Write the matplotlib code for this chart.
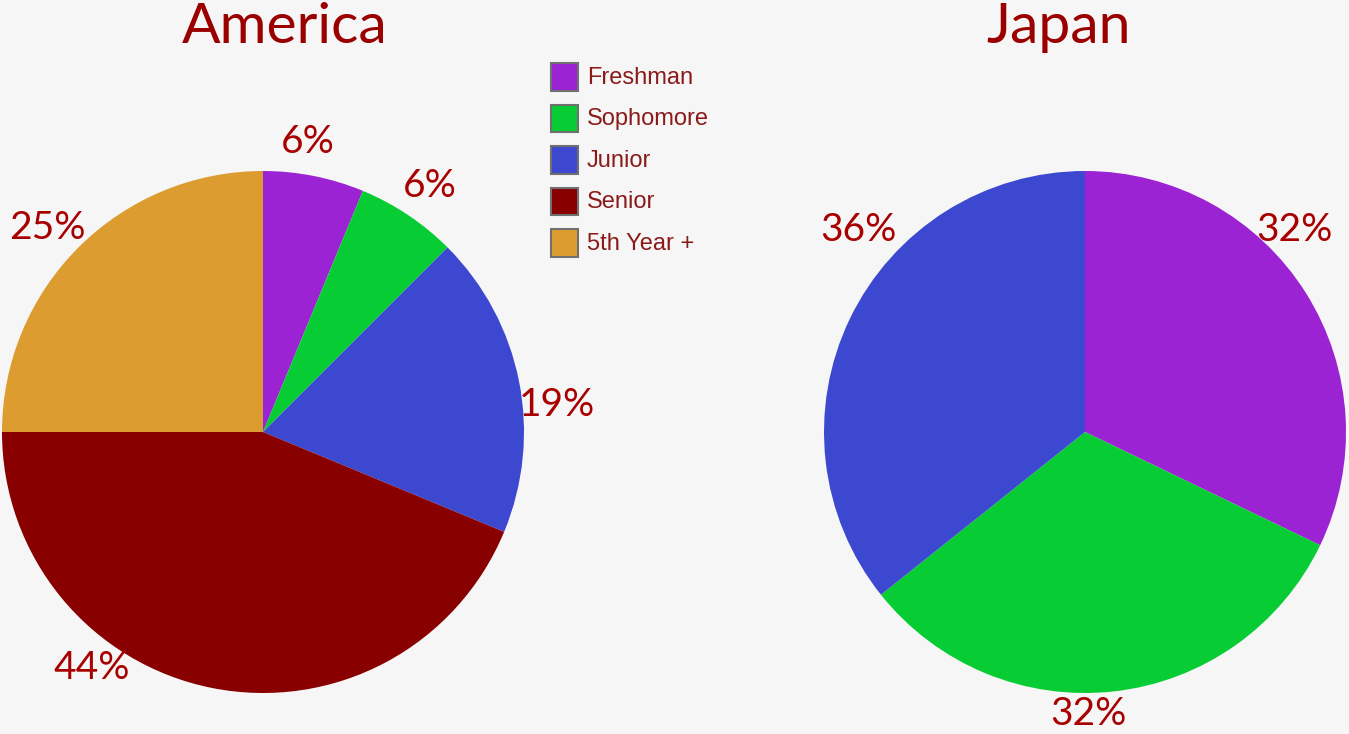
import numpy as np
import matplotlib
matplotlib.use("Agg")
import matplotlib.pyplot as plt
from matplotlib.patches import Rectangle

# Class-year distribution of respondents (head counts)
categories = ["Freshman", "Sophomore", "Junior", "Senior", "5th Year +"]
america_counts = [1, 1, 3, 7, 4]
japan_counts = [9, 9, 10]

colors = ["#9b23d3", "#08cc33", "#3c48d0", "#880000", "#dd9c30"]
bg = "#f6f6f6"
title_color = "#9a0000"
label_color = "#a80000"
legend_text_color = "#8b1a1a"

W, H = 1349, 734
fig = plt.figure(figsize=(W / 100, H / 100), dpi=100, facecolor=bg)


def px_axes(cx, cy, r):
    """Axes box (figure fraction) of a pie centred at pixel (cx, cy) with radius r."""
    return [(cx - r) / W, (H - cy - r) / H, 2 * r / W, 2 * r / H]


# angular nudges (degrees, clockwise) and radial distances of the percent labels
america_shift = [-2.5, 0.4, 6.0, 24.7, -1.6]
america_radial = [1.125, 1.14, 1.13, 1.115, 1.135]
japan_shift = [-11.8, 5.8, 16.0]
japan_radial = [1.115, 1.08, 1.165]


def draw_pie(rect, counts, shifts, radial):
    ax = fig.add_axes(rect)
    ax.set_facecolor("none")
    ax.pie(counts, colors=colors[:len(counts)], startangle=90, counterclock=False,
           radius=1.0, wedgeprops=dict(linewidth=0))
    ax.set_xlim(-1, 1)
    ax.set_ylim(-1, 1)
    ax.set_aspect("equal")
    ax.axis("off")
    total = float(sum(counts))
    start = 0.0
    for v, sh, rr in zip(counts, shifts, radial):
        pct = 100.0 * v / total
        mid = start + pct / 100.0 * 180.0
        ang = np.deg2rad(mid + sh)
        x, y = rr * np.sin(ang), rr * np.cos(ang)
        ax.text(x, y, f"{pct:.0f}%", ha="center", va="center", fontsize=28,
                color=label_color, family="Lato", fontweight=400, clip_on=False)
        start += pct / 100.0 * 360.0
    return ax


draw_pie(px_axes(263, 432, 261), america_counts, america_shift, america_radial)
draw_pie(px_axes(1085, 432, 261), japan_counts, japan_shift, japan_radial)

# Titles
fig.text(285 / W, (H - 43) / H, "America", ha="center", va="baseline",
         fontsize=41, color=title_color, family="Lato", fontweight=400)
fig.text(1059 / W, (H - 43) / H, "Japan", ha="center", va="baseline",
         fontsize=41, color=title_color, family="Lato", fontweight=400)

# Legend drawn in pixel coordinates
row_y = [77, 118.5, 160, 201.5, 243]
for cat, col, yc in zip(categories, colors, row_y):
    fig.patches.append(Rectangle((551 / W, (H - yc - 13.5) / H), 27 / W, 27 / H,
                                 transform=fig.transFigure, facecolor=col,
                                 edgecolor="#707070", linewidth=1.5))
    fig.text(587 / W, (H - yc - 1) / H, cat, ha="left", va="center", fontsize=17,
             color=legend_text_color, family="Liberation Sans")

fig.savefig("out.png", dpi=100, facecolor=bg)
